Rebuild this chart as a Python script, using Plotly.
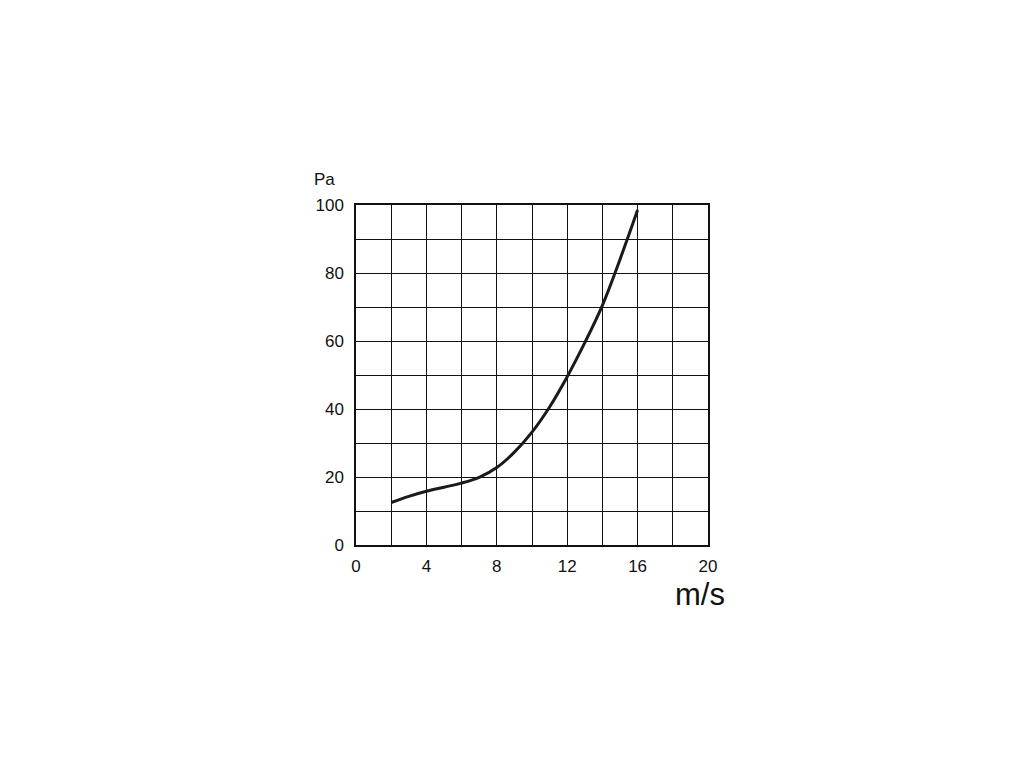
import plotly.graph_objects as go

speed = [2, 3, 4, 5, 6, 7, 8, 9, 10, 11, 12, 13, 14, 15, 16]
pressure = [12.5, 14.3, 15.8, 17.0, 18.2, 19.9, 22.8, 27.3, 33.2, 40.6, 49.5, 59.5, 70.5, 84.0, 98.5]
x_ticks = [0, 4, 8, 12, 16, 20]
y_ticks = [0, 20, 40, 60, 80, 100]

fig = go.Figure()
fig.add_trace(go.Scatter(x=speed, y=pressure, mode="lines",
                         line=dict(color="#1a1a1a", width=3, shape="spline", smoothing=1.0),
                         showlegend=False, hoverinfo="skip"))

font = dict(family="Liberation Sans, Arial, Helvetica, sans-serif", size=17, color="#111111")

fig.update_layout(
    width=1024, height=768,
    margin=dict(l=348, r=324, t=197, b=231),
    paper_bgcolor="white", plot_bgcolor="white",
    font=font,
    xaxis=dict(range=[0, 20], tickvals=x_ticks, showgrid=True, gridcolor="#111111", gridwidth=1.2,
               minor=dict(dtick=2, showgrid=True, gridcolor="#111111", gridwidth=1.2),
               showline=True, mirror=True, linecolor="#111111", linewidth=1.5,
               zeroline=False, ticks="", ticklabelstandoff=5, tickfont=font),
    yaxis=dict(range=[0, 100], tickvals=y_ticks, showgrid=True, gridcolor="#111111", gridwidth=1.2,
               minor=dict(dtick=10, showgrid=True, gridcolor="#111111", gridwidth=1.2),
               showline=True, mirror=True, linecolor="#111111", linewidth=1.5,
               zeroline=False, ticks="", ticklabelstandoff=7, tickfont=font),
    annotations=[
        dict(text="Pa", xref="paper", yref="paper", x=-0.125, y=1.04, xanchor="left", yanchor="bottom",
             showarrow=False, font=dict(family=font["family"], size=17, color="#111111")),
        dict(text="m/s", xref="paper", yref="paper", x=1.05, y=-0.092, xanchor="right", yanchor="top",
             showarrow=False, borderpad=0, font=dict(family=font["family"], size=31, color="#111111")),
    ],
)

fig.write_html("out.html")
